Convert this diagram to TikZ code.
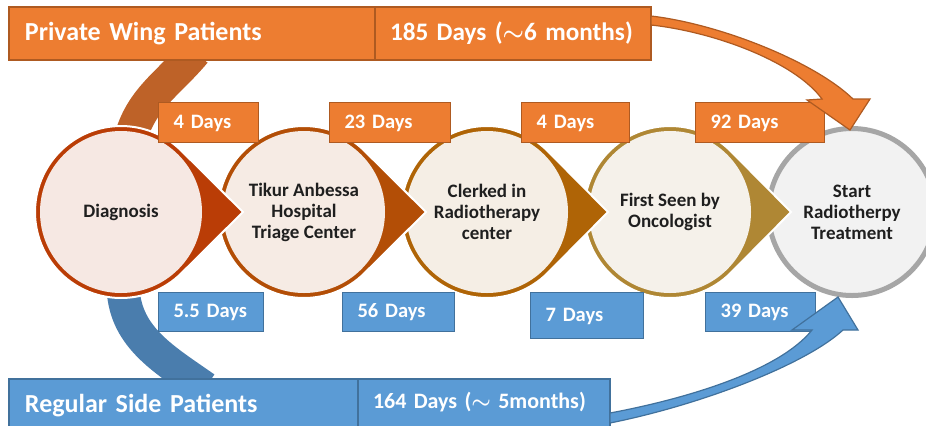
\documentclass[tikz,border=0pt]{standalone}
\usepackage{fontspec}
\setmainfont{Carlito}
\usetikzlibrary{positioning,calc,backgrounds}

\definecolor{orfill}{HTML}{ED7D31}
\definecolor{ordraw}{HTML}{AE5A21}
\definecolor{blfill}{HTML}{5B9BD5}
\definecolor{bldraw}{HTML}{41719C}
\definecolor{bandor}{HTML}{BE6228}
\definecolor{bandbl}{HTML}{4A7DAD}
\definecolor{ringA}{HTML}{BA3D06}
\definecolor{ringB}{HTML}{B34E06}
\definecolor{ringC}{HTML}{AF6406}
\definecolor{ringD}{HTML}{AF8734}
\definecolor{ringE}{HTML}{A6A6A6}
\definecolor{fillA}{HTML}{F6E8E3}
\definecolor{fillB}{HTML}{F6EBE4}
\definecolor{fillC}{HTML}{F5EEE5}
\definecolor{fillD}{HTML}{F5F1EA}
\definecolor{fillE}{HTML}{F2F2F2}

\newcommand{\tld}{{\boldmath$\sim$}}

\begin{document}
\begin{tikzpicture}[x=0.5pt,y=0.5pt]
\tikzset{
  bar/.style={draw, line width=0.6pt, outer sep=0pt, text=white, align=left,
    minimum height=26.5pt, inner xsep=8pt, inner ysep=0pt,
    font=\fontsize{13}{15}\selectfont\bfseries},
  stage/.style={circle, minimum size=81pt, inner sep=0pt, align=center,
    text=black!88, font=\fontsize{9.5}{10.5}\selectfont\bfseries},
  tear/.style={draw=white, line width=1pt},
  days/.style={draw, line width=0.6pt, anchor=north west, text=white, align=left,
    inner xsep=7.5pt, inner ysep=0pt, text height=7pt, text depth=1.5pt,
    font=\fontsize{10.25}{12}\selectfont\bfseries},
  obox/.style={days, fill=orfill, draw=ordraw, minimum height=20pt},
  bbox/.style={days, fill=blfill, draw=bldraw, minimum height=19.5pt},
  band/.style={line width=16.5pt},
  bigarrow/.style={line width=0.6pt, line join=miter}
}
\clip (0,0) rectangle (926,-425);

% stages, drawn from right to left
\node[stage, fill=fillE, draw=ringE, line width=2.5pt, minimum size=83.5pt] (start) at (852,-212) {Start\\Radiotherpy\\Treatment};
\filldraw[tear, fill=ringD, shift={(670,-212)}] (-45.2:86) -- (121,0) -- (45.2:86) arc[start angle=45.2, end angle=314.8, radius=86] -- cycle;
\node[stage, fill=fillD] (onco) at (670,-212) {First Seen by\\Oncologist};
\filldraw[tear, fill=ringC, shift={(487,-212)}] (-45.2:86) -- (121,0) -- (45.2:86) arc[start angle=45.2, end angle=314.8, radius=86] -- cycle;
\node[stage, fill=fillC] (clerk) at (487,-212) {Clerked in\\Radiotherapy\\center};
\filldraw[tear, fill=ringB, shift={(304,-212)}] (-45.2:86) -- (122,0) -- (45.2:86) arc[start angle=45.2, end angle=314.8, radius=86] -- cycle;
\node[stage, fill=fillB] (triage) at (304,-212) {Tikur Anbessa\\Hospital\\Triage Center};
\filldraw[tear, fill=ringA, shift={(121,-212)}] (-45.2:86) -- (122,0) -- (45.2:86) arc[start angle=45.2, end angle=314.8, radius=86] -- cycle;
\node[stage, fill=fillA] (diag) at (121,-212) {Diagnosis};

% patient groups
\node[bar, fill=orfill, draw=ordraw, anchor=north west, text width=167pt] (priv) at (9,-7) {Private Wing Patients};
\node[bar, fill=orfill, draw=ordraw, right=0pt of priv, inner xsep=7.5pt, text width=123pt,
  font=\fontsize{12.6}{15}\selectfont\bfseries] (privd) {\mbox{185 Days (\tld6 months)}};
\node[bar, fill=blfill, draw=bldraw, anchor=north west, text width=158.5pt] (reg) at (9,-379) {Regular Side Patients};
\node[bar, fill=blfill, draw=bldraw, right=0pt of reg, inner xsep=7.5pt, text width=111pt,
  font=\fontsize{11}{13}\selectfont\bfseries, text depth=5pt] (regd) {\mbox{164 Days (\tld{} 5months)}};

% waiting times
\node[obox, text width=35pt] (p1) at (158,-102) {4 Days};
\node[obox, text width=45.5pt] (p2) at (329,-102) {23 Days};
\node[obox, text width=39pt] (p3) at (521,-102) {4 Days};
\node[obox, text width=49.5pt] (p4) at (695,-102) {92 Days};
\node[bbox, text width=37.5pt] (r1) at (158,-292) {5.5 Days};
\node[bbox, text width=41pt] (r2) at (342,-292) {56 Days};
\node[bbox, text width=41.5pt, minimum height=23pt] (r3) at (530,-292) {7 Days};
\node[bbox, text width=40pt] (r4) at (705,-292) {39 Days};

% bands into Diagnosis
\begin{scope}[on background layer]
\draw[band, draw=bandor] ($(priv.south west)+(186,8)$) to[out=230, in=75] ($(diag)+(9,72)$);
\draw[band, draw=bandbl] ($(diag)+(2,-72)$) to[out=-90, in=145] ($(reg.north west)+(196,-9)$);
\end{scope}

% total time arrows
\filldraw[bigarrow, fill=orfill, draw=ordraw, shift={(privd.north east)}]
  (0,-9) .. controls (69,-17) and (164,-55) .. (202,-92) -- (219,-92) -- (199,-123)
  -- (156,-93) -- (171,-92) .. controls (144,-55) and (64,-25) .. (0,-18) -- cycle;
\filldraw[bigarrow, fill=blfill, draw=bldraw, shift={(regd.north east)}]
  (0,-34) .. controls (80,-19) and (170,9) .. (202,49) -- (182,49) -- (228,82)
  -- (248,49) -- (233,49) .. controls (195,14) and (90,-26) .. (0,-44) -- cycle;
\end{tikzpicture}
\end{document}
